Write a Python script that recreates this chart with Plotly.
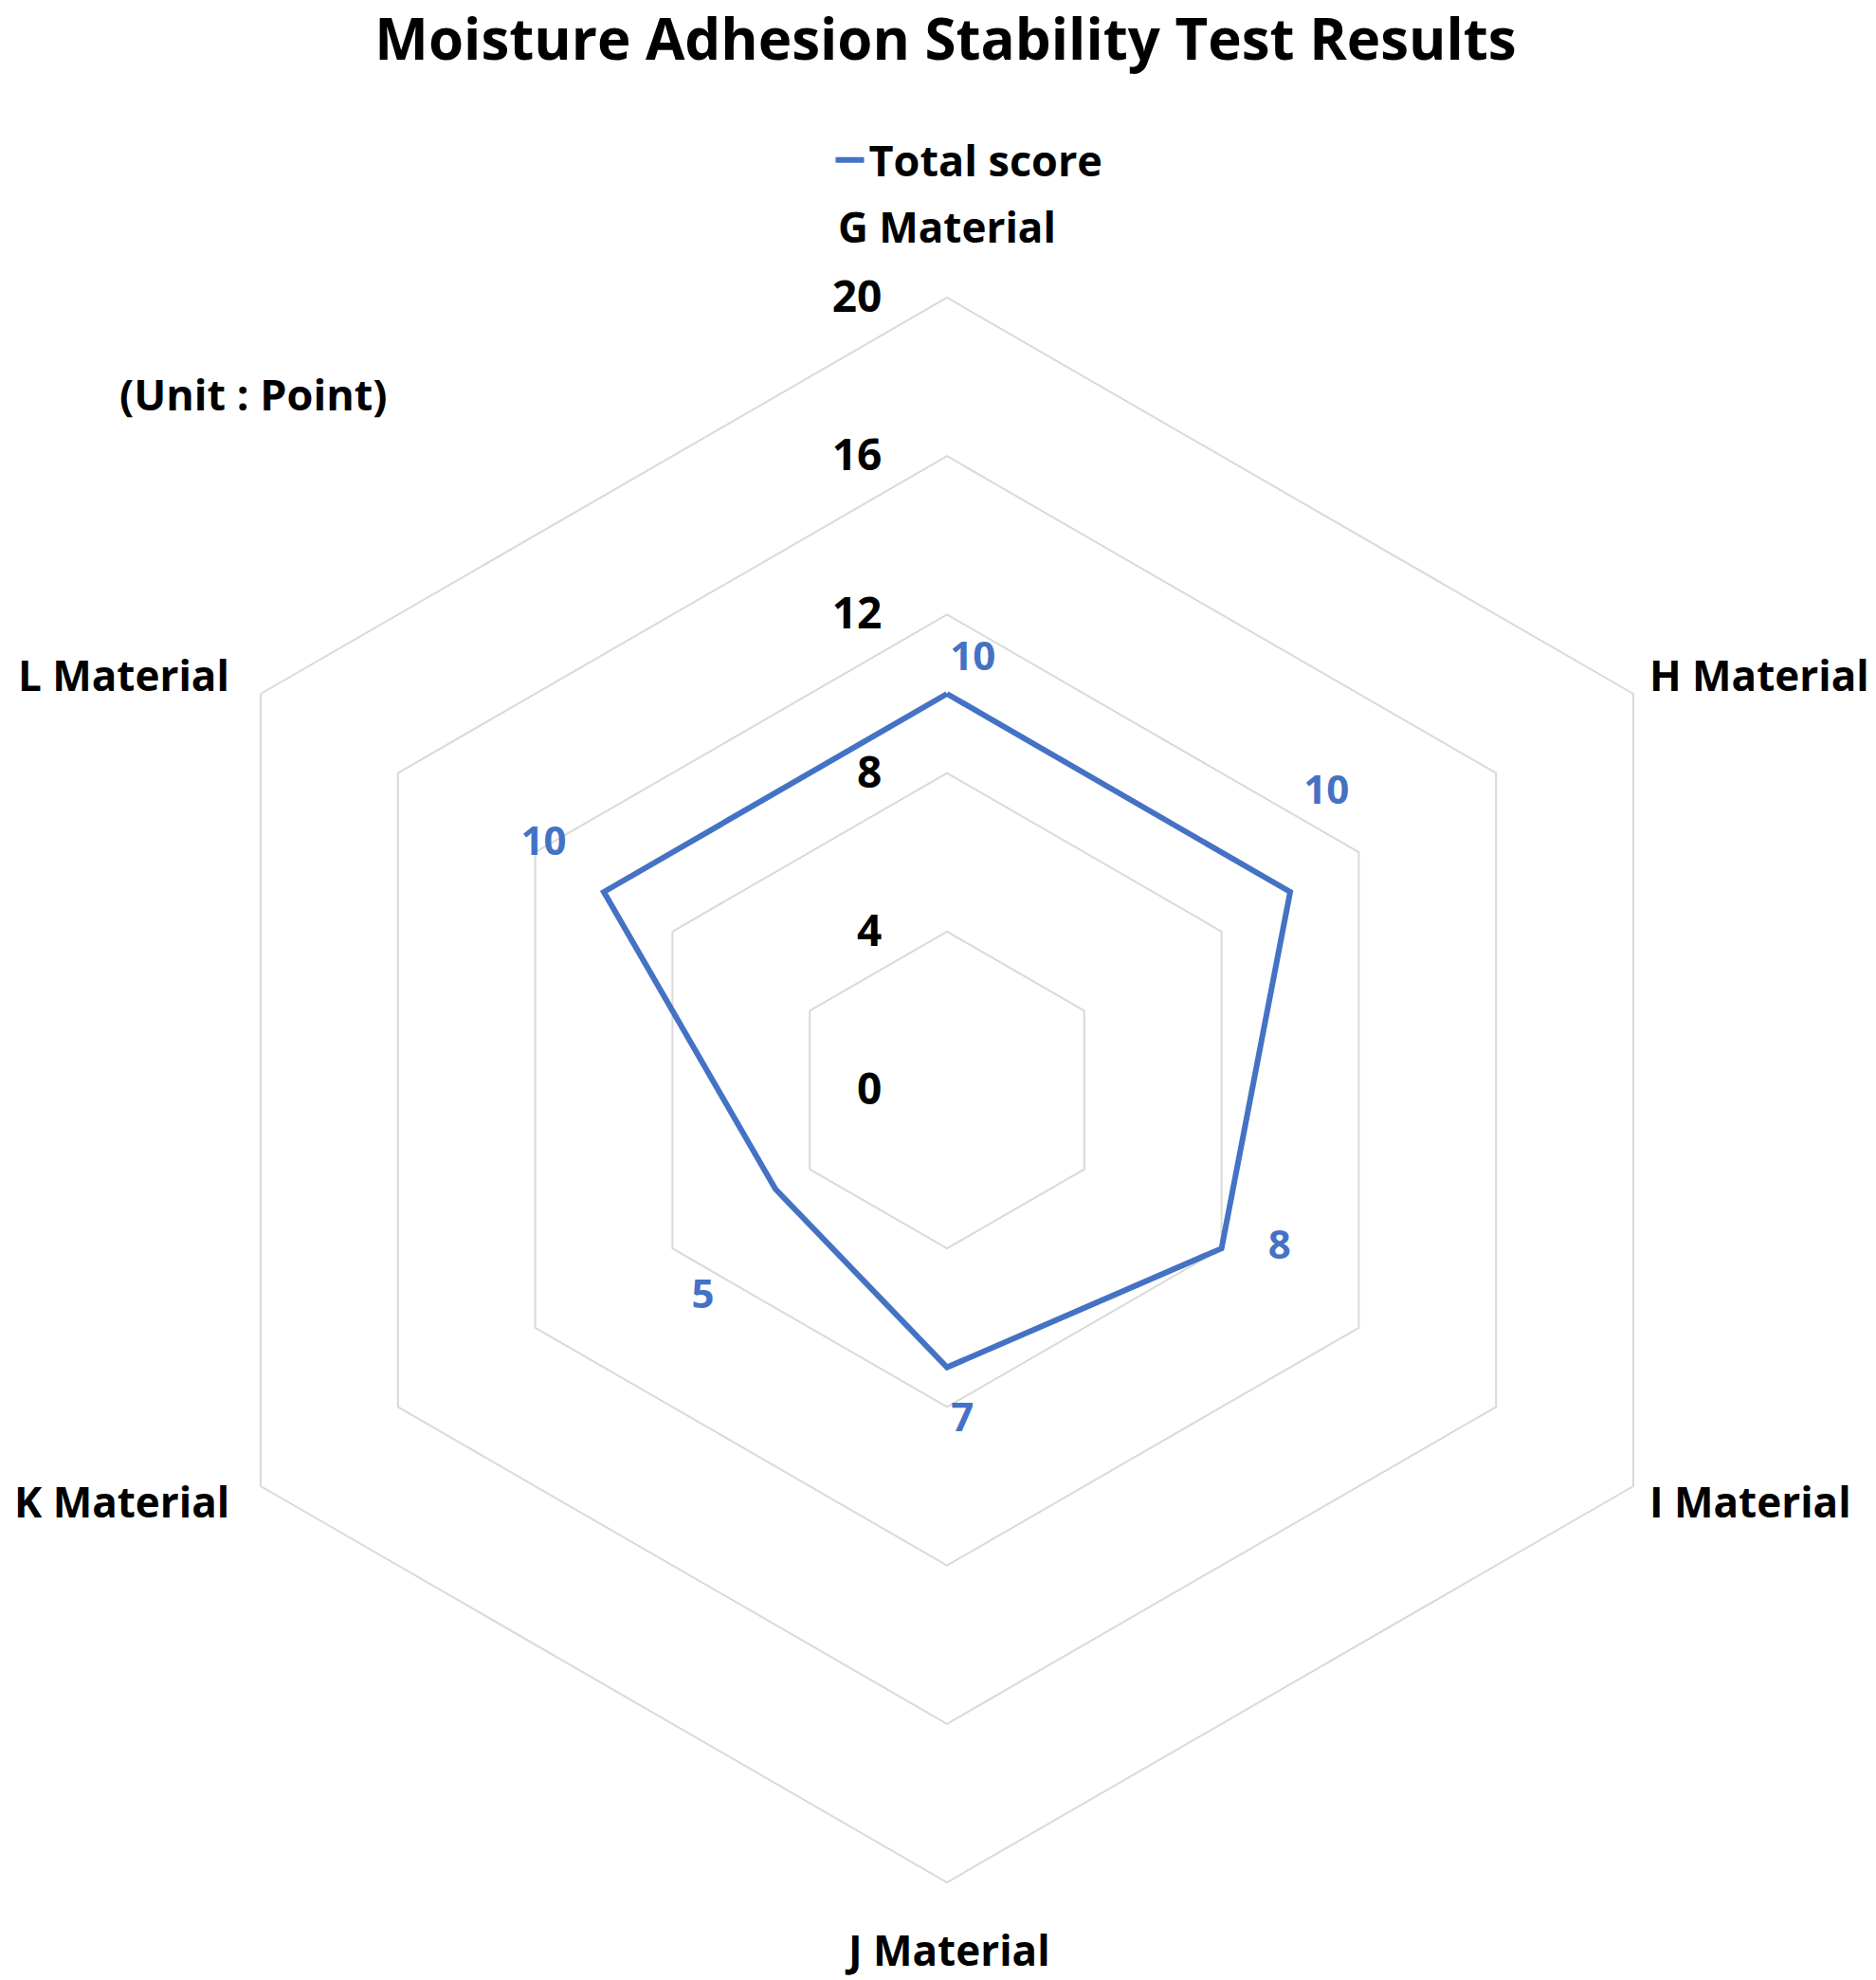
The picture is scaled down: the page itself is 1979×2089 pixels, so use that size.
import plotly.graph_objects as go

categories = ["G Material", "H Material", "I Material", "J Material", "K Material", "L Material"]
total_score = [10, 10, 8, 7, 5, 10]
tick_values = [0, 4, 8, 12, 16, 20]

# ---- data-label placement styling (not data) ----
NB = "\u00a0"
label_positions = ["top center", "top center", "middle right", "bottom center", "bottom center", "top left"]
label_offset_size = [21, 130, 77, 56, 148, 44]     # invisible marker sizes -> text standoff
label_lead = [5, 7, 0, 3, 0, 0]                     # leading nbsp
label_trail = [0, 0, 0, 0, 14, 1]                   # trailing nbsp

W, H = 1979, 2089
FONT = "Open Sans"
BLUE = "#4472C4"
GRID = "#D9D9D9"

labels = [NB * a + str(v) + NB * b for v, a, b in zip(total_score, label_lead, label_trail)]

fig = go.Figure()
fig.add_trace(go.Scatterpolar(
    r=total_score + [total_score[0]],
    theta=categories + [categories[0]],
    mode="lines",
    line=dict(color=BLUE, width=6),
    name="Total score",
))
fig.add_trace(go.Scatterpolar(
    r=total_score,
    theta=categories,
    mode="markers+text",
    text=labels,
    textposition=label_positions,
    textfont=dict(family=FONT, size=42, color=BLUE, weight="bold"),
    marker=dict(size=label_offset_size, color="rgba(0,0,0,0)", line=dict(width=0)),
    showlegend=False,
    hoverinfo="skip",
    cliponaxis=False,
))

# category label placement (paper px)
cat_anchor = [
    (991.5, 231, "center"),
    (1730, 704, "left"),
    (1730, 1576, "left"),
    (991.5, 2049, "center"),
    (236, 1576, "right"),
    (236, 704, "right"),
]
annotations = [dict(text="<b>(Unit : Point)</b>", x=259 / W, y=1 - 408 / H, xref="paper", yref="paper",
                    xanchor="center", yanchor="middle", showarrow=False,
                    font=dict(family=FONT, size=45, color="black"))]
for cat, (px, py, xa) in zip(categories, cat_anchor):
    annotations.append(dict(text="<b>" + cat + "</b>", x=px / W, y=1 - py / H, xref="paper", yref="paper",
                            xanchor=xa, yanchor="middle", showarrow=False,
                            font=dict(family=FONT, size=44, color="black")))

fig.update_layout(
    width=W, height=H,
    paper_bgcolor="white", plot_bgcolor="white",
    margin=dict(l=0, r=0, t=0, b=0),
    title=dict(text="<b>Moisture Adhesion Stability Test Results</b>",
               x=0.5, xanchor="center", y=1 - 34 / H, yanchor="middle",
               font=dict(family=FONT, size=60, color="black")),
    showlegend=True,
    legend=dict(orientation="h", x=0.5 + 25 / W, xanchor="center", y=1 - 161 / H, yanchor="middle",
                font=dict(family=FONT, size=45, color="black", weight="bold"), bgcolor="rgba(0,0,0,0)"),
    polar=dict(
        domain=dict(x=[155 / W, 1827 / W], y=[(H - 1978) / H, (H - 306) / H]),
        bgcolor="white",
        gridshape="linear",
        radialaxis=dict(range=[0, 20], tickvals=tick_values, ticktext=[str(t) for t in tick_values],
                        angle=90, tickangle=90, side="counterclockwise",
                        showline=False, ticks="outside", ticklen=52, tickcolor="rgba(0,0,0,0)",
                        gridcolor=GRID, gridwidth=2,
                        tickfont=dict(family=FONT, size=46, color="black", weight="bold")),
        angularaxis=dict(rotation=90, direction="clockwise", showgrid=False, showticklabels=False,
                         showline=True, linecolor=GRID, linewidth=2, ticks=""),
    ),
    annotations=annotations,
)

fig.write_html("out.html")
